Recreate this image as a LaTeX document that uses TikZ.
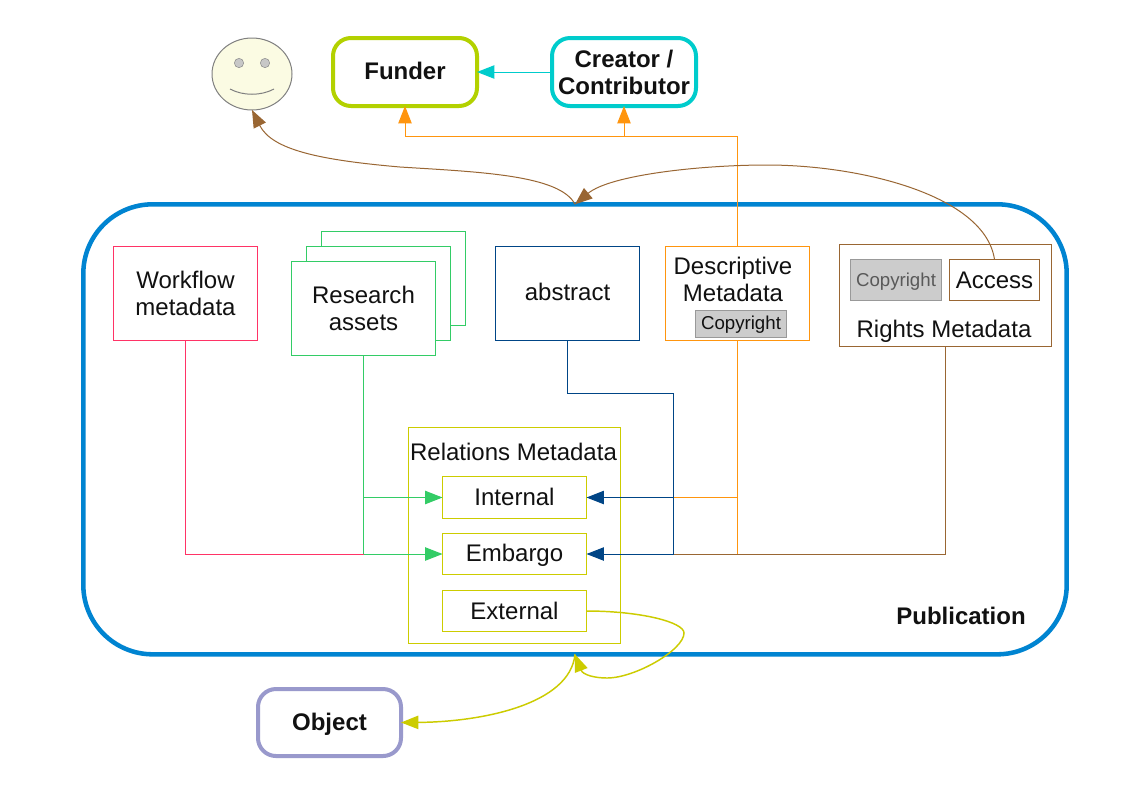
\documentclass[tikz,border=0pt]{standalone}
\usepackage{fontspec}
\setmainfont{Liberation Sans}
\usetikzlibrary{arrows.meta,shapes.geometric}
\definecolor{pubblue}{HTML}{0084D1}
\definecolor{lime}{HTML}{B3D100}
\definecolor{cyanc}{HTML}{00CCCC}
\definecolor{orangec}{HTML}{FF950E}
\definecolor{brownc}{HTML}{996633}
\definecolor{pinkc}{HTML}{FF3366}
\definecolor{greenc}{HTML}{33CC66}
\definecolor{navyc}{HTML}{004586}
\definecolor{yellowc}{HTML}{CCCC00}
\definecolor{lilac}{HTML}{9999CC}
\definecolor{ink}{HTML}{111111}
\definecolor{facec}{HTML}{FBFBE3}
\newcommand{\bx}[7][]{\node[basebox,#1,minimum width={(#5-#3)*0.75pt},minimum height={(#6-#4)*0.75pt}] (#2) at ({(#3+#5)/2},{(#4+#6)/2}) {#7};}
\newcommand{\nudge}[2]{\raisebox{#1}[\height][\depth]{#2}}
\tikzset{
  x=0.75pt,y=-0.75pt,
  basebox/.style={rectangle,inner sep=0pt,outer sep=0pt,fill=white,line width=0.75pt,align=center,text=ink,
    font=\fontsize{18pt}{20.25pt}\selectfont},
  actor/.style={rounded corners=13.5pt,line width=3pt,font=\fontsize{18pt}{20.25pt}\selectfont\bfseries},
  grayc/.style={fill=black!20,draw=black!40,font=\fontsize{14pt}{16pt}\selectfont},
  label/.style={inner sep=0pt,outer sep=0pt,align=center,text=ink,font=\fontsize{18pt}{20.25pt}\selectfont},
  wire/.style={line width=0.75pt},
  tipped/.style={-{Triangle[length=13pt,width=10pt]}},
}
\begin{document}
\begin{tikzpicture}
\useasboundingbox[fill=white] (0,0) rectangle (1123,794);
% Publication container
\bx[draw=pubblue,line width=3.4pt,rounded corners=52pt]{pub}{83.3}{204.3}{1066.7}{654.3}{}
\node[label,font=\fontsize{18pt}{20.25pt}\selectfont\bfseries] (publabel) at (961,615.5) {Publication};
% actors
\bx[actor,draw=lime]{funder}{333}{38}{477}{106}{\nudge{0.75pt}{Funder}}
\bx[actor,draw=cyanc]{creator}{552}{38}{696}{106}{Creator /\\Contributor}
\bx[actor,draw=lilac]{object}{258}{689}{401}{756}{\nudge{-1.5pt}{Object}}
% smiley
\node[ellipse,draw=black!50,fill=facec,line width=0.75pt,inner sep=0pt,outer sep=0pt,minimum width=60pt,minimum height=54pt] (smiley) at (252,74) {};
\node[circle,draw=black!45,fill=black!22,inner sep=0pt,outer sep=0pt,minimum size=7pt] (eyeL) at (239,63) {};
\node[circle,draw=black!45,fill=black!22,inner sep=0pt,outer sep=0pt,minimum size=7pt] (eyeR) at (265,63) {};
\draw[black!50,line width=0.75pt] (230,89) .. controls (243,96) and (261,96) .. (274,89);
% metadata boxes
\bx[draw=pinkc]{workflow}{113.5}{246.5}{257.5}{340.5}{Workflow\\metadata}
\bx[draw=greenc]{res3}{321.5}{231.5}{465.5}{325.5}{}
\bx[draw=greenc]{res2}{306.5}{246.5}{450.5}{340.5}{}
\bx[draw=greenc]{research}{291.5}{261.5}{435.5}{355.5}{Research\\assets}
\bx[draw=navyc]{abstract}{495.5}{246.5}{639.5}{340.5}{\nudge{1pt}{abstract}}
\bx[draw=orangec]{desc}{665.5}{246.5}{809.5}{340.5}{}
\node[label] (desclabel) at (733,279) {Descriptive\\Metadata};
\bx[grayc]{copy1}{695.5}{310}{786.5}{337}{\nudge{-1.1pt}{Copyright}}
\bx[draw=brownc]{rights}{839.5}{244.5}{1051.5}{346.5}{}
\node[label] (rightslabel) at (944,331) {Rights Metadata};
\bx[grayc,text=black!65]{copy2}{850.5}{259.5}{941.5}{300.5}{\nudge{-1.5pt}{Copyright}}
\bx[draw=brownc]{access}{949.5}{259.5}{1039.5}{300.5}{Access}
\bx[draw=yellowc]{relations}{408.5}{427.5}{620.5}{643}{}
\node[label] (relabel) at (513.5,452) {Relations Metadata};
\bx[draw=yellowc]{internal}{442.5}{476.5}{586.5}{518.5}{\nudge{0.75pt}{Internal}}
\bx[draw=yellowc]{embargo}{442.5}{533.5}{586.5}{574.5}{\nudge{-1.1pt}{Embargo}}
\bx[draw=yellowc]{external}{442.5}{590.5}{586.5}{631.5}{External}
% junctions
\coordinate (oj) at (737.5,136);
\coordinate (gi) at (363.5,497.5);
\coordinate (ge) at (363.5,554);
\coordinate (bt) at (673.5,393);
\coordinate (bi) at (673.5,497.5);
\coordinate (be) at (673.5,554);
\coordinate (oi) at (737.5,497.5);
\coordinate (oe) at (737.5,554);
\coordinate (re) at (945.5,554);
% orange wires
\draw[wire,orangec] (oi) -- (bi);
\draw[wire,orangec] (desc.south) -- (oe) -- (be);
\draw[wire,brownc] (rights.south) -- (re) -- (be);
\draw[wire,orangec,tipped] (desc.north) -- (oj) -- (oj -| funder.south) -- (funder.south);
\draw[wire,orangec,tipped] (oj -| creator.south) -- (creator.south);
% cyan
\draw[wire,cyanc,tipped] (creator.west) -- (funder.east);
% pink and green
\draw[wire,pinkc] (workflow.south) -- (workflow.south |- ge) -- (ge);
\draw[wire,greenc] (research.south) -- (ge);
\draw[wire,greenc,tipped] (gi) -- (internal.west);
\draw[wire,greenc,tipped] (ge) -- (embargo.west);
% navy
\draw[wire,navyc] (abstract.south) -- (abstract.south |- bt) -- (bt) -- (be);
\draw[wire,navyc,tipped] (bi) -- (internal.east);
\draw[wire,navyc,tipped] (be) -- (embargo.east);
% brown curves
\draw[wire,brownc,tipped] (access.north) .. controls (985,195) and (860,165) .. (767,165) .. controls (700,165) and (610,175) .. (pub.north);
\draw[wire,brownc,tipped] (pub.north) .. controls (560,175) and (480,172) .. (400,167) .. controls (320,160) and (272,150) .. (smiley.south);
% yellow curves
\draw[line width=1.1pt,yellowc,tipped] (external.east) .. controls (640,611) and (684,622) .. (684,633) .. controls (684,650) and (635,678) .. (607,678) .. controls (595,678) and (583,675) .. (pub.south);
\draw[line width=1.1pt,yellowc,tipped] (pub.south) .. controls (570,705) and (480,722) .. (object.east);
\end{tikzpicture}
\end{document}
